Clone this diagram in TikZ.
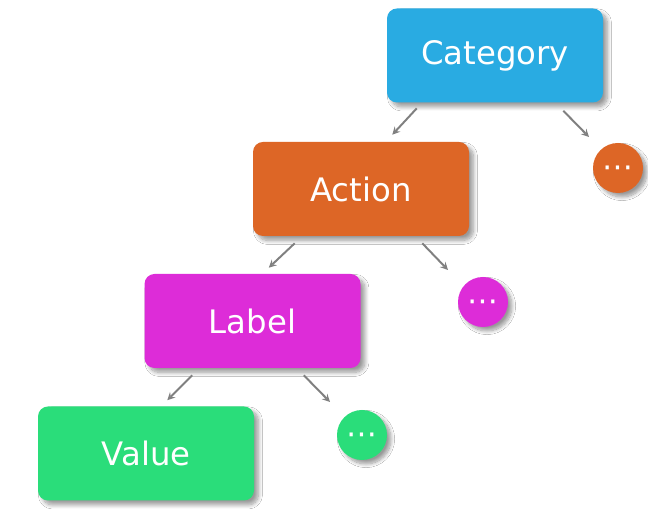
\documentclass[tikz,border=0pt]{standalone}
\usepackage{fontspec}
\setmainfont{DejaVu Sans}
\usepackage{tikz}
\usetikzlibrary{arrows,shapes,positioning,shadows,shadows.blur}
\usepackage{xcolor}
\definecolor{hcblue}{RGB}{41,171,226}
\definecolor{hcorange}{RGB}{221,102,38}
\definecolor{hcmagenta}{RGB}{221,44,216}
\definecolor{hcgreen}{RGB}{42,221,122}
\definecolor{hcgray}{RGB}{128,128,128}
\tikzstyle{link} = [line width=1.4pt,->,>=stealth,color=hcgray]
\tikzstyle{levelbox} = [rectangle, rounded corners=0.25cm, minimum width=5.4cm, minimum height=2.35cm, text centered, text=white, font=\fontsize{23}{28}\selectfont, blur shadow={shadow xshift=0.11cm, shadow yshift=-0.11cm, shadow opacity=40, shadow blur radius=0.1cm, shadow blur steps=10}]
\tikzstyle{more} = [circle, minimum size=1.25cm, inner sep=0pt, text=white, font=\fontsize{22}{26}\selectfont, blur shadow={shadow xshift=0.1cm, shadow yshift=-0.1cm, shadow opacity=40, shadow blur radius=0.09cm, shadow blur steps=10}]

\begin{document}
\begin{tikzpicture}[node distance=3cm, on grid]
\useasboundingbox[fill=white] (0,0) rectangle (16.2,13);
% Levels of the hierarchy
\node (cat) [levelbox, fill=hcblue] at (12.375,11.6125) {Category};
\node (act) [levelbox, fill=hcorange, below left=3.3375cm and 3.35cm of cat] {Action};
\node (lab) [levelbox, fill=hcmagenta, below left=3.3cm and 2.7125cm of act] {Label};
\node (val) [levelbox, fill=hcgreen, below left=3.3125cm and 2.6625cm of lab] {Value};

% Siblings
\node (moreact) [more, fill=hcorange, above right=0.525cm and 6.425cm of act] {\raisebox{-0.3em}[0pt][0pt]{⋯}};
\node (morelab) [more, fill=hcmagenta, above right=0.475cm and 5.7625cm of lab] {\raisebox{-0.3em}[0pt][0pt]{⋯}};
\node (moreval) [more, fill=hcgreen, above right=0.4625cm and 5.4cm of val] {\raisebox{-0.3em}[0pt][0pt]{⋯}};

% Arrows
\draw[link] ([shift={(0.75,-0.14)}]cat.south west) -- ([shift={(-1.925,0.175)}]act.north east);
\draw[link] ([shift={(-1.0,-0.2)}]cat.south east) -- ([shift={(-0.725,0.775)}]moreact.center);
\draw[link] ([shift={(1.05,-0.175)}]act.south west) -- ([shift={(-2.3,0.15)}]lab.north east);
\draw[link] ([shift={(-1.175,-0.175)}]act.south east) -- ([shift={(-0.875,0.8)}]morelab.center);
\draw[link] ([shift={(1.2,-0.175)}]lab.south west) -- ([shift={(-2.175,0.15)}]val.north east);
\draw[link] ([shift={(-1.425,-0.175)}]lab.south east) -- ([shift={(-0.8,0.825)}]moreval.center);
\end{tikzpicture}
\end{document}
